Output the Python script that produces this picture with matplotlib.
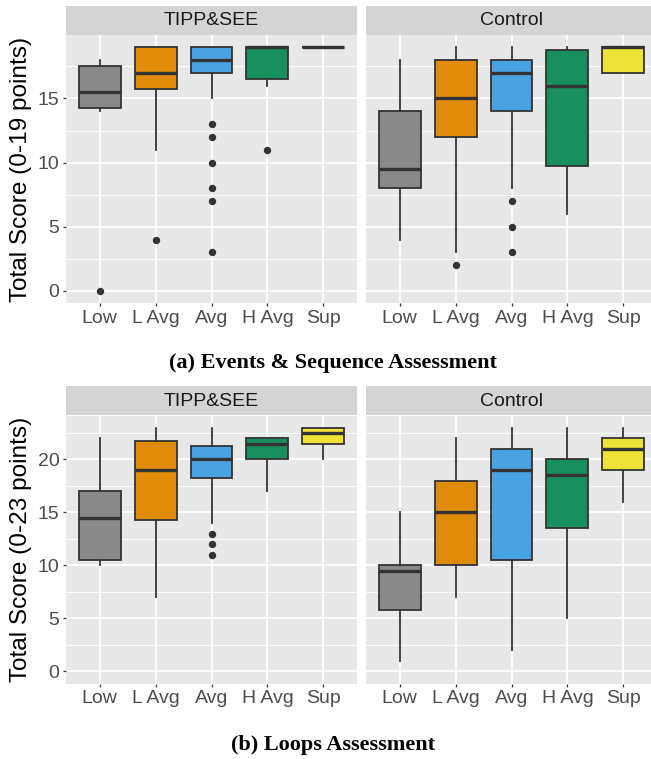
import matplotlib
matplotlib.use("Agg")
import matplotlib.pyplot as plt
from matplotlib.ticker import MultipleLocator, FixedLocator

# ---------------- data ----------------
categories = ["Low", "L Avg", "Avg", "H Avg", "Sup"]
groups = ["TIPP&SEE", "Control"]
box_colors = ["#898989", "#E08B0A", "#49A3E2", "#178F5F", "#EDE236"]

# Events & Sequence Assessment (0-19)
es_tipp_whislo = [14, 11, 15, 16, 19]
es_tipp_q1 = [14.25, 15.75, 17, 16.5, 19]
es_tipp_med = [15.5, 17, 18, 19, 19]
es_tipp_q3 = [17.5, 19, 19, 19, 19]
es_tipp_whishi = [18, 19, 19, 19, 19]
es_tipp_fliers = [[0], [4], [13, 12, 10, 8, 7, 3], [11], []]

es_ctrl_whislo = [4, 3, 8, 6, 17]
es_ctrl_q1 = [8, 12, 14, 9.75, 17]
es_ctrl_med = [9.5, 15, 17, 16, 19]
es_ctrl_q3 = [14, 18, 18, 18.75, 19]
es_ctrl_whishi = [18, 19, 19, 19, 19]
es_ctrl_fliers = [[], [2], [7, 5, 3], [], []]

# Loops Assessment (0-23)
lp_tipp_whislo = [10, 7, 14, 17, 20]
lp_tipp_q1 = [10.5, 14.25, 18.25, 20, 21.5]
lp_tipp_med = [14.5, 19, 20, 21.5, 22.5]
lp_tipp_q3 = [17, 21.75, 21.25, 22, 23]
lp_tipp_whishi = [22, 23, 23, 22, 23]
lp_tipp_fliers = [[], [], [13, 12, 11], [], []]

lp_ctrl_whislo = [1, 7, 2, 5, 16]
lp_ctrl_q1 = [5.75, 10, 10.5, 13.5, 19]
lp_ctrl_med = [9.5, 15, 19, 18.5, 21]
lp_ctrl_q3 = [10, 18, 21, 20, 22]
lp_ctrl_whishi = [15, 22, 23, 23, 23]
lp_ctrl_fliers = [[], [], [], [], []]

es_max = 19
lp_max = 23
es_ylabel = "Total Score (0-19 points)"
lp_ylabel = "Total Score (0-23 points)"
es_caption = "(a) Events & Sequence Assessment"
lp_caption = "(b) Loops Assessment"

# ---------------- layout helpers ----------------
W, H = 651, 759
fig = plt.figure(figsize=(W / 100, H / 100), dpi=100)
plt.rcParams["font.family"] = ["Liberation Sans", "DejaVu Sans"]


def px_axes(x0, y0, x1, y1):
    return fig.add_axes([x0 / W, 1 - y1 / H, (x1 - x0) / W, (y1 - y0) / H])


def make_stats(whislo, q1, med, q3, whishi, fliers):
    return [dict(whislo=a, q1=b, med=c, q3=d, whishi=e, fliers=f)
            for a, b, c, d, e, f in zip(whislo, q1, med, q3, whishi, fliers)]


def draw_panel(ax, stats, ymax, show_ylabels):
    pad = ymax * 0.05
    ax.set_facecolor("#E8E8E8")
    positions = list(range(1, len(categories) + 1))
    bp = ax.bxp(stats, positions=positions, widths=0.75, patch_artist=True,
                showcaps=False,
                boxprops=dict(edgecolor="#333333", linewidth=1.3),
                whiskerprops=dict(color="#333333", linewidth=1.3),
                medianprops=dict(color="#333333", linewidth=2.4, solid_capstyle="butt"),
                flierprops=dict(marker="o", markerfacecolor="#333333",
                                markeredgecolor="#333333", markersize=4.3,
                                linestyle="none"),
                zorder=3)
    for patch, col in zip(bp["boxes"], box_colors):
        patch.set_facecolor(col)
    ax.set_xlim(0.4, len(categories) + 0.6)
    ax.set_ylim(-pad, ymax + pad)
    ax.set_xticks(positions)
    ax.set_xticklabels(categories)
    ax.yaxis.set_major_locator(MultipleLocator(5))
    ax.yaxis.set_minor_locator(FixedLocator([2.5 + 5 * i for i in range(5)]))
    ax.grid(True, which="major", color="white", linewidth=1.3)
    ax.grid(True, which="minor", axis="y", color="white", linewidth=0.65)
    ax.set_axisbelow(True)
    for s in ax.spines.values():
        s.set_visible(False)
    ax.tick_params(axis="both", which="major", length=2.3, width=0.9,
                   color="#333333", labelcolor="#4D4D4D", labelsize=14, pad=2.5)
    ax.tick_params(axis="both", which="minor", length=0)
    if not show_ylabels:
        ax.tick_params(axis="y", which="major", length=0, labelleft=False)


def draw_strip(ax, text):
    ax.set_facecolor("#D4D4D4")
    ax.set_xticks([])
    ax.set_yticks([])
    for s in ax.spines.values():
        s.set_visible(False)
    ax.text(0.5, 0.48, text, ha="center", va="center", fontsize=14,
            color="#1A1A1A", transform=ax.transAxes)


def draw_chart(top, stats_list, ymax, ylabel, caption, cap_y):
    strip_top = top
    panel_top = top + 29.5
    panel_bot = top + 297.5
    xs = [(66, 357), (366, 657)]
    for i, ((x0, x1), g, st) in enumerate(zip(xs, groups, stats_list)):
        sax = px_axes(x0, strip_top, x1, panel_top)
        draw_strip(sax, g)
        ax = px_axes(x0, panel_top, x1, panel_bot)
        draw_panel(ax, st, ymax, show_ylabels=(i == 0))
    fig.text(21 / W, 1 - ((panel_top + panel_bot) / 2) / H, ylabel,
             rotation=90, ha="center", va="center", fontsize=17.6, color="black")
    fig.text(333 / W, 1 - cap_y / H, caption, ha="center", va="center",
             fontsize=16, fontweight="bold", family=["Liberation Serif", "DejaVu Serif"])


es_stats = [make_stats(es_tipp_whislo, es_tipp_q1, es_tipp_med, es_tipp_q3,
                       es_tipp_whishi, es_tipp_fliers),
            make_stats(es_ctrl_whislo, es_ctrl_q1, es_ctrl_med, es_ctrl_q3,
                       es_ctrl_whishi, es_ctrl_fliers)]
lp_stats = [make_stats(lp_tipp_whislo, lp_tipp_q1, lp_tipp_med, lp_tipp_q3,
                       lp_tipp_whishi, lp_tipp_fliers),
            make_stats(lp_ctrl_whislo, lp_ctrl_q1, lp_ctrl_med, lp_ctrl_q3,
                       lp_ctrl_whishi, lp_ctrl_fliers)]

draw_chart(5.5, es_stats, es_max, es_ylabel, es_caption, 363)
draw_chart(386, lp_stats, lp_max, lp_ylabel, lp_caption, 745)

fig.savefig("out.png", dpi=100)
